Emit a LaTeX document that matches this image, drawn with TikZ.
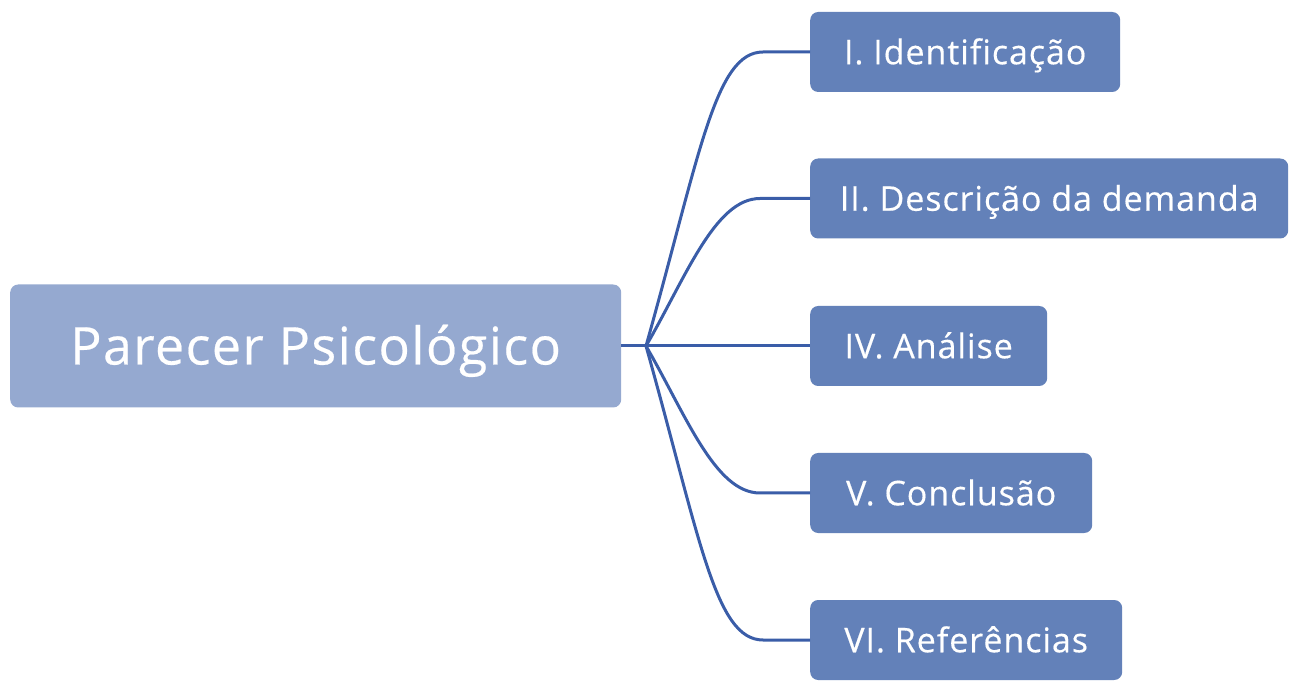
\documentclass[tikz,border=0pt]{standalone}
\usepackage{fontspec}
\setmainfont{Open Sans}[Ligatures=NoCommon, LetterSpace=2.8, FakeBold=0.4]
\usetikzlibrary{calc}
\definecolor{rootfill}{HTML}{95A9D0}
\definecolor{childfill}{HTML}{6381B9}
\definecolor{linkcol}{HTML}{3A5DA8}
\begin{document}
\begin{tikzpicture}[x=1pt,y=1pt,
  rootbox/.style={rectangle, rounded corners=8pt, fill=rootfill, text=white,
    font=\fontsize{52}{60}\selectfont, minimum width=611pt, minimum height=123pt,
    inner sep=0pt, text height=37pt, text depth=0pt, anchor=west},
  childbox/.style={rectangle, rounded corners=8pt, fill=childfill, text=white,
    font=\fontsize{34}{40}\selectfont, minimum height=80pt,
    inner sep=0pt, text height=24.5pt, text depth=0pt, anchor=west},
  link/.style={draw=linkcol, line width=3pt}]
\useasboundingbox (0,0) rectangle (1289,680);
\node[rootbox] (root) at (10,334) {Parecer Psicológico};
\coordinate (hub) at (646,334);
\node[childbox, minimum width=310pt] (c1) at (810,628) {I. Identificação};
\node[childbox, minimum width=478pt] (c2) at (810,481.5) {II. Descrição da demanda};
\node[childbox, minimum width=237pt] (c4) at (810,334) {IV. Análise};
\node[childbox, minimum width=282pt] (c5) at (810,187) {V. Conclusão};
\node[childbox, minimum width=312pt] (c6) at (810,40) {VI. Referências};
\coordinate (e1) at ($(c1.west)+(-47,0)$);
\coordinate (e2) at ($(c2.west)+(-50,0)$);
\coordinate (e5) at ($(c5.west)+(-50,0)$);
\coordinate (e6) at ($(c6.west)+(-47,0)$);
\draw[link] (root.east) -- (hub) -- (c4.west);
\draw[link] (hub) .. controls +(54,192) and +(-48,0) .. (e1) -- (c1.west);
\draw[link] (hub) .. controls +(40,69) and +(-45,0) .. (e2) -- (c2.west);
\draw[link] (hub) .. controls +(40,-69) and +(-45,0) .. (e5) -- (c5.west);
\draw[link] (hub) .. controls +(54,-192) and +(-48,0) .. (e6) -- (c6.west);
\end{tikzpicture}
\end{document}
